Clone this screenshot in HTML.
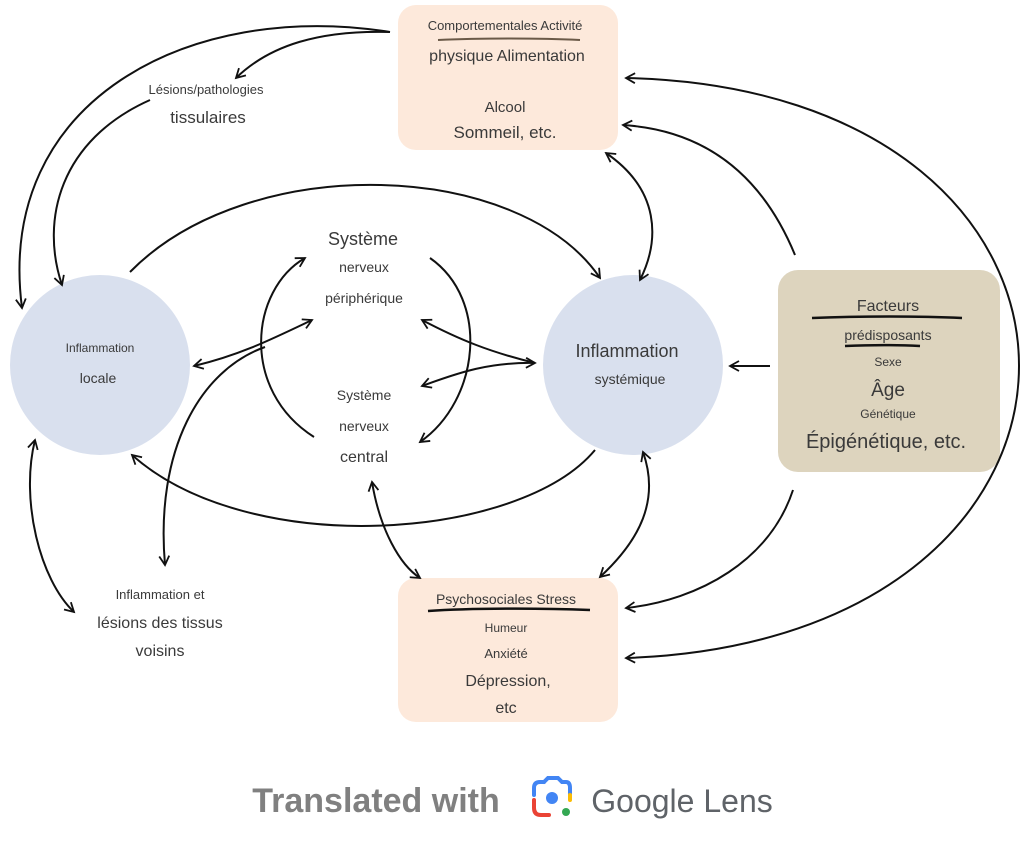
<!DOCTYPE html>
<html><head><meta charset="utf-8"><style>
body{margin:0;background:#fff;width:1024px;height:859px;overflow:hidden}
svg text{font-family:"Liberation Sans","DejaVu Sans",sans-serif;fill:#3a3a3a;text-anchor:middle}
</style></head><body>
<svg width="1024" height="859" viewBox="0 0 1024 859" xmlns="http://www.w3.org/2000/svg">
<defs>
<marker id="a" viewBox="0 0 12 12" refX="10" refY="6" markerWidth="12" markerHeight="12" markerUnits="userSpaceOnUse" orient="auto-start-reverse">
<path d="M1,1 L10,6 L1,11" fill="none" stroke="#111" stroke-width="1.8"/>
</marker>
</defs>
<rect x="398" y="5" width="220" height="145" rx="18" fill="#fde9db"/>
<rect x="778" y="270" width="222" height="202" rx="20" fill="#ddd4be"/>
<rect x="398" y="578" width="220" height="144" rx="18" fill="#fde9db"/>
<circle cx="100" cy="365" r="90" fill="#d9e0ee"/>
<circle cx="633" cy="365" r="90" fill="#d9e0ee"/>
<g fill="none" stroke="#111" stroke-width="2">
<path d="M390,32 C190,0 -5,100 22,308" marker-end="url(#a)"/>
<path d="M390,32 C320,30 270,45 236,78" marker-end="url(#a)"/>
<path d="M150,100 C60,140 40,220 62,285" marker-end="url(#a)"/>
<path d="M130,272 C250,150 520,160 600,278" marker-end="url(#a)"/>
<path d="M606,153 C660,190 660,240 640,280" marker-start="url(#a)" marker-end="url(#a)"/>
<path d="M795,255 C760,170 700,130 623,125" marker-end="url(#a)"/>
<path d="M626,658 C1150,640 1150,90 626,78" marker-start="url(#a)" marker-end="url(#a)"/>
<path d="M770,366 L730,366" marker-end="url(#a)"/>
<path d="M793,490 C770,560 700,600 626,608" marker-end="url(#a)"/>
<path d="M643,452 C660,500 640,540 600,577" marker-start="url(#a)" marker-end="url(#a)"/>
<path d="M595,450 C520,540 250,560 132,455" marker-end="url(#a)"/>
<path d="M35,440 C20,500 40,580 74,612" marker-start="url(#a)" marker-end="url(#a)"/>
<path d="M372,482 C380,530 400,565 420,578" marker-start="url(#a)" marker-end="url(#a)"/>
<path d="M165,565 C155,450 200,370 265,347"  marker-start="url(#a)"/>
<path d="M194,366 C240,355 270,340 312,320" marker-start="url(#a)" marker-end="url(#a)"/>
<path d="M314,437 C240,390 250,290 305,258" marker-end="url(#a)"/>
<path d="M430,258 C490,300 480,400 420,442" marker-end="url(#a)"/>
<path d="M535,363 C490,352 460,340 422,320" marker-end="url(#a)"/>
<path d="M535,363 C490,362 460,372 422,386" marker-start="url(#a)" marker-end="url(#a)"/>
<path d="M438,40 C480,38 540,38 580,40" stroke="#6b5a48" stroke-width="2"/>
<path d="M812,318 C860,316 920,316 962,318" stroke-width="2.5"/>
<path d="M845,346 C870,345 900,345 920,346" stroke-width="2.5"/>
<path d="M428,611 C470,608 540,608 590,610" stroke-width="2.5"/>
</g>
<text x="505" y="30" font-size="13">Comportementales Activité</text>
<text x="507" y="61" font-size="16">physique Alimentation</text>
<text x="505" y="112" font-size="15">Alcool</text>
<text x="505" y="138" font-size="17">Sommeil, etc.</text>
<text x="206" y="94" font-size="13">Lésions/pathologies</text>
<text x="208" y="123" font-size="17">tissulaires</text>
<text x="100" y="352" font-size="12">Inflammation</text>
<text x="98" y="383" font-size="14">locale</text>
<text x="627" y="357" font-size="18">Inflammation</text>
<text x="630" y="384" font-size="14">systémique</text>
<text x="363" y="245" font-size="18">Système</text>
<text x="364" y="272" font-size="14">nerveux</text>
<text x="364" y="303" font-size="14">périphérique</text>
<text x="364" y="400" font-size="14">Système</text>
<text x="364" y="431" font-size="14">nerveux</text>
<text x="364" y="462" font-size="16">central</text>
<text x="888" y="311" font-size="16">Facteurs</text>
<text x="888" y="340" font-size="14">prédisposants</text>
<text x="888" y="366" font-size="12">Sexe</text>
<text x="888" y="396" font-size="19">Âge</text>
<text x="888" y="418" font-size="12">Génétique</text>
<text x="886" y="448" font-size="20">Épigénétique, etc.</text>
<text x="160" y="599" font-size="13">Inflammation et</text>
<text x="160" y="628" font-size="16">lésions des tissus</text>
<text x="160" y="656" font-size="16">voisins</text>
<text x="506" y="604" font-size="14">Psychosociales Stress</text>
<text x="506" y="632" font-size="12">Humeur</text>
<text x="506" y="658" font-size="13">Anxiété</text>
<text x="508" y="686" font-size="16">Dépression,</text>
<text x="506" y="713" font-size="16">etc</text>
<text x="376" y="812" font-size="34" style="fill:#808080;font-weight:bold">Translated with</text>
<text x="682" y="812" font-size="32" style="fill:#5f6368">Google Lens</text>
<g fill="none" stroke-width="4" stroke-linecap="round">
<path d="M534,795 L534,788 Q534,782 540,782 L544,782" stroke="#4285f4"/>
<path d="M544,782 L548,778 L558,778 L562,782 L566,782 Q570,782 570,788 L570,795" stroke="#4285f4"/>
<path d="M534,800 L534,808 Q534,815 541,815 L549,815" stroke="#ea4335"/>
<path d="M570,795 L570,800" stroke="#fbbc04"/>
</g>
<circle cx="552" cy="798" r="6" fill="#4285f4"/>
<circle cx="566" cy="812" r="4" fill="#34a853"/>
</svg>
</body></html>
